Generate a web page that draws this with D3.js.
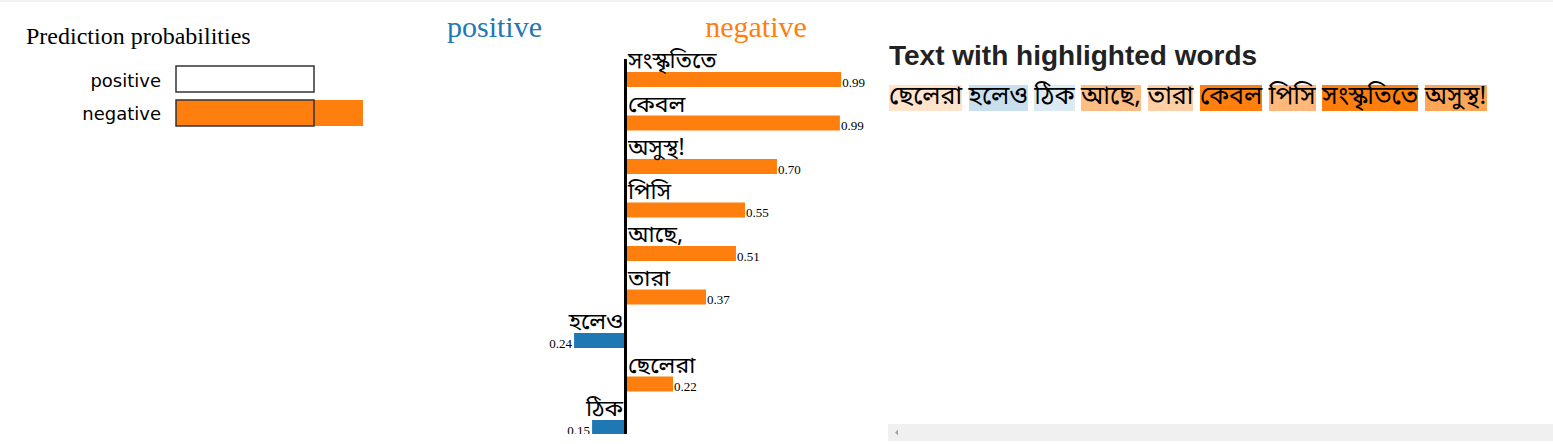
<!DOCTYPE html>
<html>
<head>
<meta charset="utf-8">
<script src="https://d3js.org/d3.v7.min.js"></script>
<style>
  html, body { margin: 0; padding: 0; background: #fff; width: 1553px; height: 444px; overflow: hidden; }
  #topline { position: absolute; left: 0; top: 0; width: 1553px; height: 2px; background: #f2f2f2; }
  #chart { position: absolute; left: 0; top: 0; }
  #right { position: absolute; left: 888px; top: 0; width: 665px; height: 444px; }
  #right h3 { position: absolute; left: 1px; top: 40px; margin: 0; font-family: "Liberation Sans", Arial, sans-serif; font-weight: bold; font-size: 28px; color: #222; white-space: nowrap; line-height: 32px; }
  #hl { position: absolute; left: 1px; top: 85px; font-family: "Noto Sans Bengali", "Noto Sans", "Lohit Bengali", sans-serif; font-size: 25px; line-height: 26px; white-space: nowrap; color: #000; }
  #hl span.w { display: inline-block; height: 26px; line-height: 26px; vertical-align: top; }
  #hl span.sp { display: inline-block; width: 6.5px; height: 26px; vertical-align: top; }
  #scroll { position: absolute; left: 888px; top: 424px; width: 665px; height: 17px; background: #f0f0f0; }
</style>
</head>
<body>
<div id="topline"></div>
<svg id="chart" width="888" height="444"></svg>
<div id="right">
  <h3>Text with highlighted words</h3>
  <div id="hl"></div>
</div>
<div id="scroll"><svg width="20" height="17"><path d="M7,8.5 L10,5.5 L10,11.5 Z" fill="#a3a3a3"></path></svg></div>
<script>
// ---- data ----
const classNames = ["positive", "negative"];
const classProbs = [0.0, 1.355];
const featureWords = ["সংস্কৃতিতে", "কেবল", "অসুস্থ!", "পিসি", "আছে,", "তারা", "হলেও", "ছেলেরা", "ঠিক"];
const featureWeights = [0.994, 0.988, 0.698, 0.551, 0.509, 0.371, -0.237, 0.219, -0.154];
const textTokens = ["ছেলেরা", "হলেও", "ঠিক", "আছে,", "তারা", "কেবল", "পিসি", "সংস্কৃতিতে", "অসুস্থ!"];
const tokenWeights = [0.219, -0.237, -0.154, 0.509, 0.371, 0.988, 0.551, 0.994, 0.698];

const POS = "#1f77b4", NEG = "#ff7f0e";
const svg = d3.select("#chart");
const serif = "'Liberation Serif', 'Times New Roman', serif";
const bengali = "'Noto Sans Bengali', 'Noto Sans', 'Lohit Bengali', sans-serif";

// ---- prediction probabilities ----
const pp = svg.append("g");
pp.append("text").attr("x", 26).attr("y", 44).attr("font-family", serif).attr("font-size", 24)
  .attr("fill", "#000").text("Prediction probabilities");
const probX = d3.scaleLinear().domain([0, 1]).range([0, 138]);
const probY = d3.scaleBand().domain(classNames).range([66, 126]).paddingInner(0.235);
const probColor = d3.scaleOrdinal().domain(classNames).range([POS, NEG]);
classNames.forEach((c, i) => {
  const y = probY(c), h = probY.bandwidth();
  pp.append("rect").attr("x", 176).attr("y", y).attr("width", Math.max(0, probX(classProbs[i])))
    .attr("height", h).attr("fill", probColor(c));
  pp.append("rect").attr("x", 176).attr("y", y).attr("width", probX(1)).attr("height", h)
    .attr("fill", "none").attr("stroke", "#333").attr("stroke-width", 1.5);
  pp.append("text").attr("x", 161).attr("y", y + h / 2 + 7.5).attr("text-anchor", "end")
    .attr("font-family", "'DejaVu Sans', Verdana, sans-serif").attr("font-size", 18).attr("fill", "#000").text(c);
});

// ---- feature weights ----
const x0 = 625.5;
const wx = d3.scaleLinear().domain([-1, 1]).range([x0 - 217, x0 + 217]);
const barY = d3.scaleBand().domain(featureWords.map((d, i) => i)).range([43.5, 43.5 + 43.5 * featureWords.length]);
svg.append("text").attr("x", 494.5).attr("y", 37).attr("text-anchor", "middle").attr("font-family", serif)
  .attr("font-size", 30).attr("fill", POS).text(classNames[0]);
svg.append("text").attr("x", 756).attr("y", 37).attr("text-anchor", "middle").attr("font-family", serif)
  .attr("font-size", 30).attr("fill", NEG).text(classNames[1]);

svg.append("clipPath").attr("id", "fclip").append("rect").attr("x", 0).attr("y", 0).attr("width", 888).attr("height", 434);
const fg = svg.append("g").attr("clip-path", "url(#fclip)");
featureWords.forEach((w, i) => {
  const v = featureWeights[i];
  const top = barY(i) + 28.5;
  const pos = v > 0;
  fg.append("rect").attr("x", Math.min(wx(0), wx(v))).attr("y", top)
    .attr("width", Math.abs(wx(v) - wx(0))).attr("height", 15).attr("fill", pos ? NEG : POS);
  fg.append("text").attr("x", pos ? wx(0) + 2.5 : wx(0) - 2.5).attr("y", top - 4)
    .attr("text-anchor", pos ? "start" : "end").attr("font-family", bengali).attr("font-size", 23)
    .attr("fill", "#000").text(w);
  fg.append("text").attr("x", pos ? wx(v) + 1 : wx(v) - 2).attr("y", top + 14.5)
    .attr("text-anchor", pos ? "start" : "end").attr("font-family", serif).attr("font-size", 13)
    .attr("fill", "#000").text(Math.abs(v).toFixed(2));
});
fg.append("line").attr("x1", x0).attr("x2", x0).attr("y1", 59).attr("y2", 444)
  .attr("stroke", "#000").attr("stroke-width", 3);

// ---- highlighted text ----
const maxW = d3.max(tokenWeights, d => Math.abs(d));
const posScale = d3.scaleLinear().domain([0, maxW]).range(["#ffffff", NEG]);
const negScale = d3.scaleLinear().domain([0, maxW]).range(["#ffffff", POS]);
const hl = d3.select("#hl");
textTokens.forEach((t, i) => {
  const v = tokenWeights[i];
  hl.append("span").attr("class", "w")
    .style("background", v > 0 ? posScale(v) : negScale(-v)).text(t);
  if (i < textTokens.length - 1) hl.append("span").attr("class", "sp");
});
</script>
</body>
</html>
